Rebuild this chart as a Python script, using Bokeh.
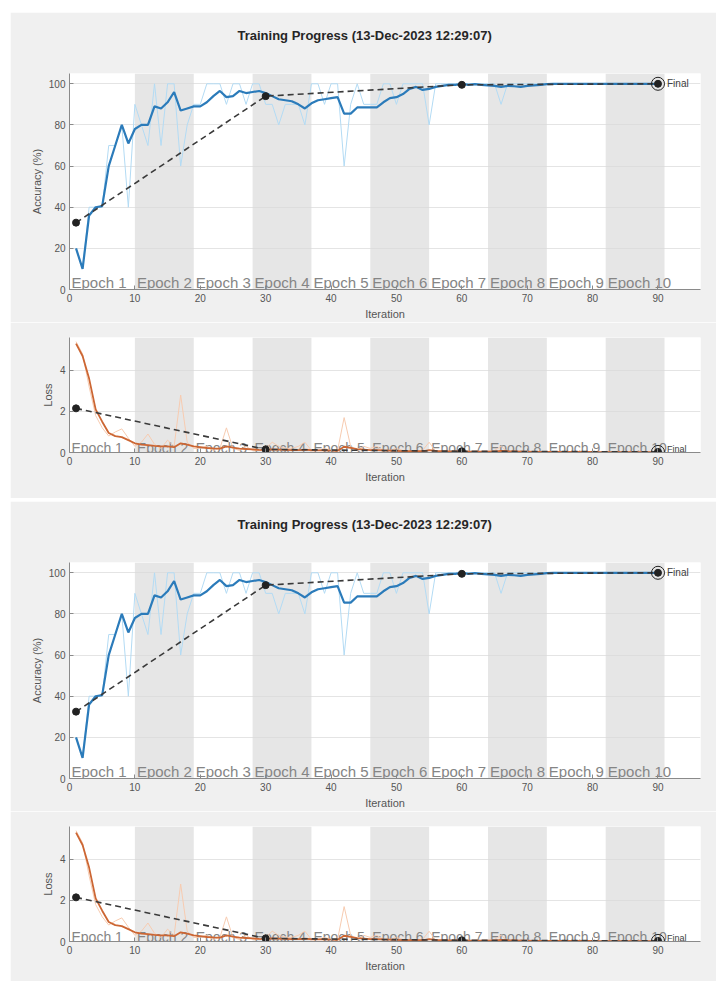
from bokeh.plotting import figure
from bokeh.layouts import column, row
from bokeh.models import Spacer, ColumnDataSource, Range1d, FixedTicker, Title
from bokeh.core.properties import value
from bokeh.embed import file_html
from bokeh.resources import INLINE

# ---------------- data ----------------
iterations = list(range(1, 91))

acc_smooth = [20, 10, 36, 40, 40.5, 60, 70, 80, 71, 78,
              80, 80, 89, 88, 91, 96, 87, 88, 89, 89,
              91, 94, 96.5, 93.5, 94, 96.5, 95.5, 96, 96.5, 95.5,
              94, 92.5, 92, 91.5, 90, 88, 90.5, 92, 92.5, 93,
              93.5, 85.5, 85.5, 88.5, 88.5, 88.5, 88.5, 91, 93, 93.5,
              95, 97.5, 98.5, 97, 97.5, 98.5, 99, 99.5, 99.5, 100,
              99.5, 99.8, 99.5, 99.2, 99, 98.5, 99, 98.8, 98.5, 99,
              99.2, 99.5, 99.8, 100, 100, 100, 100, 100, 100, 100,
              100, 100, 100, 100, 100, 100, 100, 100, 100, 100]

acc_raw = [20, 10, 40, 40, 40, 70, 70, 80, 40, 90,
           80, 70, 100, 70, 100, 100, 60, 80, 90, 90,
           100, 100, 100, 90, 100, 100, 90, 100, 100, 90,
           90, 80, 90, 90, 90, 80, 100, 100, 90, 100,
           100, 60, 90, 100, 90, 90, 90, 100, 100, 90,
           100, 100, 100, 100, 80, 100, 100, 100, 100, 100,
           100, 100, 100, 100, 100, 90, 100, 100, 100, 100,
           100, 100, 100, 100, 100, 100, 100, 100, 100, 100,
           100, 100, 100, 100, 100, 100, 100, 100, 100, 100]

loss_smooth = [5.3, 4.7, 3.6, 2.1, 1.5, 0.95, 0.8, 0.75, 0.6, 0.45,
               0.38, 0.36, 0.32, 0.3, 0.3, 0.26, 0.45, 0.38, 0.3, 0.26,
               0.22, 0.2, 0.19, 0.3, 0.24, 0.19, 0.17, 0.15, 0.13, 0.12,
               0.15, 0.14, 0.13, 0.12, 0.12, 0.14, 0.11, 0.1, 0.1, 0.09,
               0.08, 0.28, 0.22, 0.16, 0.14, 0.12, 0.12, 0.1, 0.09, 0.08,
               0.07, 0.06, 0.06, 0.06, 0.12, 0.08, 0.06, 0.05, 0.05, 0.04,
               0.04, 0.04, 0.04, 0.04, 0.04, 0.08, 0.06, 0.05, 0.04, 0.04,
               0.03, 0.03, 0.03, 0.03, 0.03, 0.03, 0.03, 0.03, 0.03, 0.03,
               0.02, 0.02, 0.02, 0.02, 0.02, 0.02, 0.02, 0.02, 0.02, 0.02]

loss_raw = [5.4, 4.8, 3.2, 1.8, 1.2, 0.8, 1.0, 1.15, 0.7, 0.3,
            0.5, 0.9, 0.4, 0.2, 0.6, 0.3, 2.8, 0.5, 0.2, 0.2,
            0.3, 0.1, 0.2, 1.2, 0.2, 0.1, 0.3, 0.1, 0.1, 0.2,
            0.5, 0.3, 0.2, 0.2, 0.3, 0.5, 0.1, 0.1, 0.2, 0.1,
            0.1, 1.7, 0.3, 0.1, 0.3, 0.2, 0.3, 0.1, 0.1, 0.2,
            0.1, 0.05, 0.05, 0.1, 0.5, 0.05, 0.05, 0.05, 0.05, 0.02,
            0.02, 0.02, 0.03, 0.05, 0.1, 0.3, 0.03, 0.02, 0.02, 0.02,
            0.02, 0.02, 0.02, 0.02, 0.02, 0.02, 0.02, 0.02, 0.02, 0.02,
            0.01, 0.01, 0.01, 0.01, 0.01, 0.01, 0.01, 0.01, 0.01, 0.01]

val_iter = [1, 30, 60, 90]
val_acc = [32.5, 94, 99.5, 100]
val_loss = [2.15, 0.15, 0.06, 0.03]

epoch_start = [0, 10, 19, 28, 37, 46, 55, 64, 73, 82]
epoch_end = [10, 19, 28, 37, 46, 55, 64, 73, 82, 91]
epoch_labels = ["Epoch 1", "Epoch 2", "Epoch 3", "Epoch 4", "Epoch 5",
                "Epoch 6", "Epoch 7", "Epoch 8", "Epoch 9", "Epoch 10"]

acc_ticks = [0, 20, 40, 60, 80, 100]
loss_ticks = [0, 2, 4]
iter_ticks = [0, 10, 20, 30, 40, 50, 60, 70, 80, 90]

title_text = "Training Progress (13-Dec-2023 12:29:07)"
x_label = "Iteration"
final_label = "Final"

# ---------------- style ----------------
FONT = "Liberation Sans"
PANEL_BG = "#f0f0f0"
X_MAX = 96.5
ACC_MAX = 105
LOSS_MAX = 5.6


def style_axes(p, ylabel, yticks, tick_font="10px"):
    p.background_fill_color = "white"
    p.border_fill_color = PANEL_BG
    p.outline_line_color = None
    p.xgrid.grid_line_color = None
    p.ygrid.grid_line_color = "#d9d9d9"
    p.ygrid.grid_line_alpha = 0.7
    p.ygrid.ticker = FixedTicker(ticks=yticks)
    p.xaxis.ticker = FixedTicker(ticks=iter_ticks)
    p.yaxis.ticker = FixedTicker(ticks=yticks)
    for ax in (p.xaxis[0], p.yaxis[0]):
        ax.axis_line_color = "#8a8a8a"
        ax.major_tick_line_color = "#8a8a8a"
        ax.major_tick_in = 4
        ax.major_tick_out = 0
        ax.minor_tick_line_color = None
        ax.major_label_text_font = FONT
        ax.major_label_text_font_size = tick_font
        ax.major_label_text_color = "#555555"
        ax.axis_label_text_font = FONT
        ax.axis_label_text_font_size = "11px"
        ax.axis_label_text_font_style = "normal"
        ax.axis_label_text_color = "#555555"
        ax.major_label_standoff = 4
        ax.axis_label_standoff = 3
    p.xaxis.axis_label = x_label
    p.yaxis.axis_label = ylabel


def epoch_layer(p, ymax, label_y, font_size):
    shade = ColumnDataSource(dict(
        left=[epoch_start[i] for i in range(1, 10, 2)],
        right=[epoch_end[i] for i in range(1, 10, 2)],
        bottom=[0] * 5,
        top=[ymax] * 5,
    ))
    p.quad(left="left", right="right", bottom="bottom", top="top", source=shade,
           fill_color="#e6e6e6", line_color=None, level="image")
    lab = ColumnDataSource(dict(x=epoch_start, y=[label_y] * 10, t=epoch_labels))
    p.text(x="x", y="y", text="t", source=lab, x_offset=2,
           text_font=value(FONT), text_font_size=font_size,
           text_color="#858585", text_baseline="alphabetic", text_align="left")


def make_panel(loss_height, loss_bottom):
    # ---- accuracy ----
    pa = figure(width=706, height=310, output_backend="svg", toolbar_location=None,
                x_range=Range1d(0, X_MAX), y_range=Range1d(0, ACC_MAX),
                min_border_left=59, min_border_right=16, min_border_top=61,
                min_border_bottom=33, title=None)
    # spacer title nearest the frame, then the real title above it
    pa.add_layout(Title(text=" ", text_font_size="1px", standoff=23), "above")
    pa.add_layout(Title(text=title_text, align="left", offset=168, standoff=10,
                        text_font=FONT, text_font_size="13px", text_font_style="bold",
                        text_color="#262626"), "above")
    style_axes(pa, "Accuracy (%)", acc_ticks)
    epoch_layer(pa, ACC_MAX, 3.4, "15px")
    pa.line(iterations, acc_raw, line_color="#b3dbf4", line_width=1)
    pa.line(iterations, acc_smooth, line_color="#2b7bba", line_width=2.2)
    pa.line(val_iter, val_acc, line_color="#3a3a3a", line_width=1.6, line_dash="6 4")
    pa.scatter(val_iter, val_acc, size=7, fill_color="#222222", line_color="#222222")
    pa.scatter(val_iter[-1:], val_acc[-1:], size=13, fill_color=None, line_color="#222222", line_width=1)
    pa.text(x=val_iter[-1:], y=val_acc[-1:], text=[final_label], x_offset=9,
            text_font=value(FONT), text_font_size="10px", text_color="#404040",
            text_baseline="middle")

    # ---- loss ----
    pl = figure(width=706, height=loss_height, output_backend="svg", toolbar_location=None,
                x_range=Range1d(0, X_MAX), y_range=Range1d(0, LOSS_MAX),
                min_border_left=45, min_border_right=16, min_border_top=15,
                min_border_bottom=loss_bottom)
    style_axes(pl, "Loss", loss_ticks)
    epoch_layer(pl, LOSS_MAX, 0.24, "14px")
    pl.line(iterations, loss_raw, line_color="#f7cbb0", line_width=1)
    pl.line(iterations, loss_smooth, line_color="#cc6633", line_width=1.8)
    pl.line(val_iter, val_loss, line_color="#3a3a3a", line_width=1.6, line_dash="6 4")
    pl.scatter(val_iter, val_loss, size=7, fill_color="#222222", line_color="#222222")
    pl.scatter(val_iter[-1:], val_loss[-1:], size=13, fill_color=None, line_color="#222222", line_width=1)
    pl.text(x=val_iter[-1:], y=val_loss[-1:], text=[final_label], x_offset=9, y_offset=-3,
            text_font=value(FONT), text_font_size="9px", text_color="#404040",
            text_baseline="middle")
    return pa, pl


a1, l1 = make_panel(176, 46)
a2, l2 = make_panel(170, 40)

stack = column(a1, l1, Spacer(height=3), a2, l2, spacing=0)
layout = column(Spacer(height=12), row(Spacer(width=10), stack, spacing=0), spacing=0)

open("out.html", "w").write(file_html(layout, INLINE))
